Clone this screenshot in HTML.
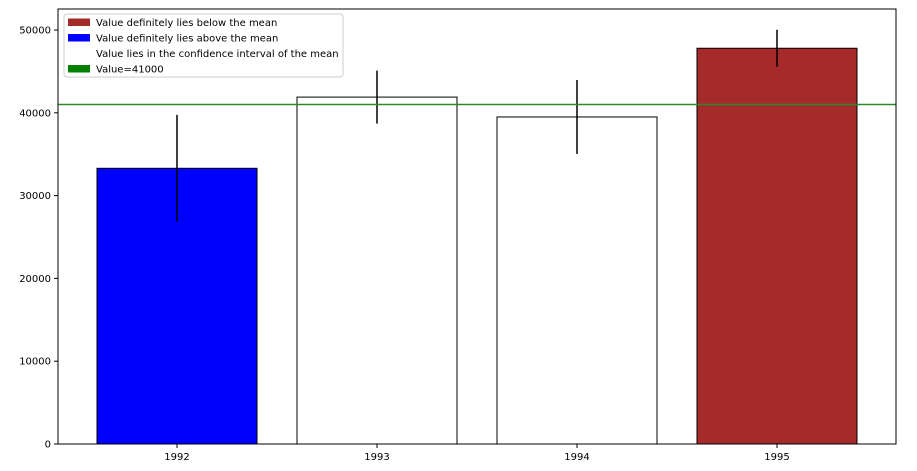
<!DOCTYPE html>
<html><head><meta charset="utf-8"><style>
body{margin:0;background:#fff;font-family:"DejaVu Sans","Liberation Sans",sans-serif}
svg{display:block}
text{font-family:"DejaVu Sans","Liberation Sans",sans-serif;font-size:10px;fill:#000}
</style></head><body>
<svg id="chart" width="917" height="471"></svg>
<script>
const categories=["1992","1993","1994","1995"];
const values=[33300,41900,39500,47800];
const errors=[6450,3200,4470,2230];
const colors=["blue","white","white","brown"];
const yTicks=[0,10000,20000,30000,40000,50000];
const refValue=41000;
const legendLabels=["Value definitely lies below the mean","Value definitely lies above the mean","Value lies in the confidence interval of the mean","Value=41000"];
const legendColors=["brown","blue","white","green"];

const NS="http://www.w3.org/2000/svg";
const svg=document.getElementById("chart");
const L=58,R=896,T=9,B=444;
const yMax=52540;
const y=v=>B-(v/yMax)*(B-T);
const x=i=>L+(i+0.595)/4.19*(R-L);
const bw=0.8/4.19*(R-L);
function mk(tag,attrs,parent){const e=document.createElementNS(NS,tag);for(const k in attrs)e.setAttribute(k,attrs[k]);(parent||svg).appendChild(e);return e;}

values.forEach((v,i)=>{
  const r=mk("rect",{x:x(i)-bw/2,y:y(v),width:bw,height:B-y(v),fill:colors[i],stroke:"#000","stroke-width":1});
  
  
  const e=mk("line",{x1:x(i),x2:x(i),y1:y(v+errors[i]),y2:y(v-errors[i]),stroke:"#000","stroke-width":1.5});
  
  
});
const rl=mk("line",{x1:L,x2:R,y1:y(refValue),y2:y(refValue),stroke:"#2a8a2a","stroke-width":1.5});



const frame=mk("rect",{x:L,y:T,width:R-L,height:B-T,fill:"none",stroke:"#000","stroke-width":1});



yTicks.forEach(t=>{
  mk("line",{x1:L-4,x2:L,y1:y(t),y2:y(t),stroke:"#000"});
  const tx=mk("text",{x:L-7,y:y(t)+3.5,"text-anchor":"end"});tx.textContent=t;
  
  
});
categories.forEach((c,i)=>{
  mk("line",{x1:x(i),x2:x(i),y1:B,y2:B+4,stroke:"#000"});
  const tx=mk("text",{x:x(i),y:B+16,"text-anchor":"middle"});tx.textContent=c;
  
  
});

const lg=mk("g",{});


mk("rect",{x:64,y:14,width:279,height:63,rx:3,fill:"#fff",stroke:"#ccc"},lg);
legendLabels.forEach((l,i)=>{
  const yy=22.5+i*15.5;
  mk("rect",{x:68,y:yy-4,width:22,height:7.5,fill:legendColors[i]},lg);
  const tx=mk("text",{x:96,y:yy+3.5},lg);tx.textContent=l;
  
  
});
</script>
</body></html>
